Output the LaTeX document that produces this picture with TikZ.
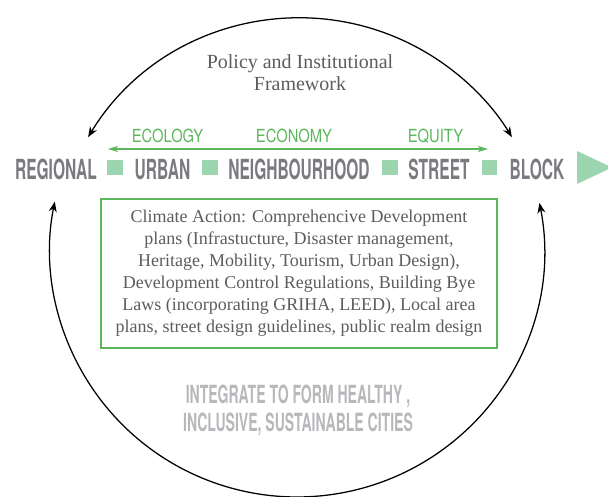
\documentclass[tikz,border=0pt]{standalone}
\usepackage{fontspec}
\setmainfont{Liberation Serif}
% condensed caps for the scale row and the closing statement
\newfontfamily\levelfont[FakeStretch=0.56]{TeX Gyre Heros}
\newfontfamily\pillarfont[FakeStretch=0.82]{TeX Gyre Heros}
\usetikzlibrary{arrows.meta,calc}

\definecolor{levelgrey}{RGB}{122,122,128}
\definecolor{goalgrey}{RGB}{184,184,188}
\definecolor{textgrey}{RGB}{92,92,92}
\definecolor{pillargreen}{RGB}{92,182,92}
\definecolor{mintgreen}{RGB}{156,214,176}

\tikzset{
  level/.style={anchor=base,inner sep=0pt,text=levelgrey,
    font=\levelfont\bfseries\fontsize{19.7}{20}\selectfont},
  pillar/.style={anchor=base,inner sep=0pt,text=pillargreen,
    font=\pillarfont\fontsize{12.8}{13}\selectfont},
  joint/.style={fill=mintgreen,draw=none,minimum size=0.375cm,inner sep=0pt},
  cycle arrow/.style={{Stealth[length=2.6mm,width=2mm]}-{Stealth[length=2.6mm,width=2mm]},
    line width=0.9pt,black},
}

\begin{document}
\begin{tikzpicture}[x=0.025cm,y=0.025cm]
\useasboundingbox (0,0) rectangle (608,497);

% outer cycle
\coordinate (policy-west) at ($(300,231)+(148.7:248)$);
\draw[cycle arrow] (policy-west) arc[start angle=148.7,end angle=31.3,radius=248];
\coordinate (goal-east) at ($(297,247)+(11:247)$);
\draw[cycle arrow] (goal-east) arc[start angle=11,end angle=-191.3,radius=247];

% base of a two-line node is its last line
\node[align=center,text=textgrey,inner sep=0pt,anchor=base,
  font=\fontsize{14.2}{16.3}\selectfont] (policy) at (300,406)
  {Policy and Institutional\\Framework};

% the three pillars
\node[pillar] (ecology) at (167.5,354) {ECOLOGY};
\node[pillar] (economy) at (294,354) {ECONOMY};
\node[pillar] (equity) at (435.5,354) {EQUITY};
\coordinate (pillars-west) at (108,348);
\coordinate (pillars-east) at (488,348);
\draw[{Stealth[length=2.6mm,width=1.6mm]}-{Stealth[length=2.6mm,width=1.6mm]},
  line width=0.8pt,pillargreen] (pillars-west) -- (pillars-east);

% planning scales
\node[level] (regional) at (56,317) {REGIONAL};
\node[joint] (joint-1) at (115,329.5) {};
\node[level] (urban) at (162.5,317) {URBAN};
\node[joint] (joint-2) at (210,329.5) {};
\node[level] (neighbourhood) at (299,317) {NEIGHBOURHOOD};
\node[joint] (joint-3) at (390,329.5) {};
\node[level] (street) at (439,317) {STREET};
\node[joint] (joint-4) at (489.5,329.5) {};
\node[level] (block) at (537,317) {BLOCK};
\fill[mintgreen] (577,346) -- (612,329.5) -- (577,313) -- cycle;

% instruments box
\node[draw=pillargreen,line width=1.4pt,minimum width=9.9cm,minimum height=3.725cm,
  align=center,text=textgrey,inner sep=0pt,
  font=\fontsize{12.8}{15.6}\selectfont] (instruments) at (299,223.5)
  {Climate Action: Comprehencive Development\\
   plans (Infrastucture, Disaster management,\\
   Heritage, Mobility, Tourism, Urban Design),\\
   Development Control Regulations, Building Bye\\
   Laws (incorporating GRIHA, LEED), Local area\\
   plans, street design guidelines, public realm design};

\node[align=center,text=goalgrey,inner sep=0pt,anchor=base,
  font=\levelfont\bfseries\fontsize{17.8}{20.3}\selectfont] (goal) at (298,65)
  {INTEGRATE TO FORM HEALTHY ,\\INCLUSIVE, SUSTAINABLE CITIES};
\end{tikzpicture}
\end{document}
